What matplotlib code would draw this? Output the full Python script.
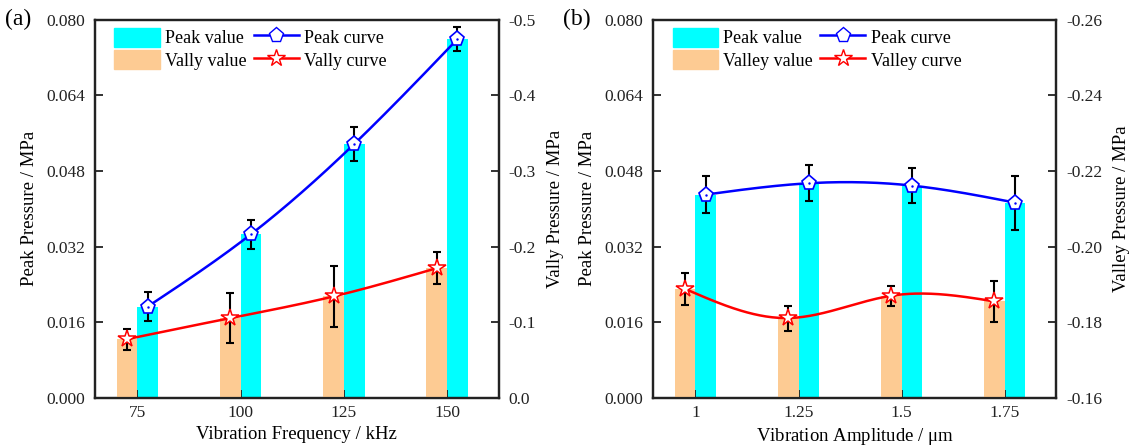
import numpy as np
import matplotlib
matplotlib.use("Agg")
import matplotlib.pyplot as plt
from matplotlib.patches import Patch
from matplotlib.lines import Line2D

plt.rcParams['font.family'] = ['Liberation Serif', 'DejaVu Serif']
plt.rcParams['axes.unicode_minus'] = False
plt.rcParams['mathtext.fontset'] = 'stix'

# panel (a): vibration frequency
freq_labels = ['75', '100', '125', '150']
peak_a = [0.0193, 0.0346, 0.0537, 0.0759]
peak_a_err = [0.0031, 0.0031, 0.0036, 0.0025]
valley_a = [-0.0776, -0.1054, -0.1341, -0.1715]
valley_a_err = [0.0137, 0.0326, 0.0400, 0.0215]

# panel (b): vibration amplitude
amp_labels = ['1', '1.25', '1.5', '1.75']
peak_b = [0.0430, 0.0454, 0.0449, 0.0413]
peak_b_err = [0.0040, 0.0038, 0.0037, 0.0057]
valley_b = [-0.1888, -0.1811, -0.1870, -0.1855]
valley_b_err = [0.0042, 0.0033, 0.0027, 0.0055]

CYAN = '#00FFFF'
PEACH = '#FDCB93'
BLUE = '#0000FF'
RED = '#FF0000'


def natural_spline(x, y, n=200):
    # smooth curve through the points, like Origin's spline connect
    x = np.asarray(x, float)
    y = np.asarray(y, float)
    k = len(x)
    h = np.diff(x)
    A = np.zeros((k, k))
    b = np.zeros(k)
    A[0, 0] = A[-1, -1] = 1
    for i in range(1, k - 1):
        A[i, i - 1] = h[i - 1]
        A[i, i] = 2 * (h[i - 1] + h[i])
        A[i, i + 1] = h[i]
        b[i] = 3 * ((y[i + 1] - y[i]) / h[i] - (y[i] - y[i - 1]) / h[i - 1])
    c = np.linalg.solve(A, b)
    xs = np.linspace(x[0], x[-1], n)
    ys = np.empty_like(xs)
    for j, xv in enumerate(xs):
        i = min(np.searchsorted(x, xv, side='right') - 1, k - 2)
        dx = xv - x[i]
        bi = (y[i + 1] - y[i]) / h[i] - h[i] * (2 * c[i] + c[i + 1]) / 3
        di = (c[i + 1] - c[i]) / (3 * h[i])
        ys[j] = y[i] + bi * dx + c[i] * dx ** 2 + di * dx ** 3
    return xs, ys


def panel(rect, labels, peak, peak_err, valley, valley_err, rlim, rticks, rfmt,
          xlabel, rlabel, vname, tag):
    ax = fig.add_axes(rect)
    ax2 = ax.twinx()
    pos = np.arange(len(labels))
    w = 0.2
    ax.bar(pos + w / 2, peak, w, color=CYAN, zorder=1)
    ax2.bar(pos - w / 2, [v - rlim[0] for v in valley], w, bottom=rlim[0],
            color=PEACH, zorder=1)

    xs, ys = natural_spline(pos + w / 2, peak)
    ax.plot(xs, ys, color=BLUE, lw=1.8, zorder=3)
    ax.errorbar(pos + w / 2, peak, yerr=peak_err, fmt='none', ecolor='black',
                elinewidth=1.5, capsize=3, capthick=1.5, zorder=4)
    ax.plot(pos + w / 2, peak, 'p', ms=11, mfc='white', mec=BLUE, mew=1.2, zorder=5)
    ax.plot(pos + w / 2, peak, '.', ms=1.5, color=BLUE, zorder=6)

    xs, ys = natural_spline(pos - w / 2, valley)
    ax2.plot(xs, ys, color=RED, lw=1.8, zorder=3)
    ax2.errorbar(pos - w / 2, valley, yerr=valley_err, fmt='none', ecolor='black',
                 elinewidth=1.5, capsize=3, capthick=1.5, zorder=4)
    ax2.plot(pos - w / 2, valley, '*', ms=13, mfc='white', mec=RED, mew=1.1, zorder=5)

    ax.set_xlim(-0.41, 3.5)
    ax.set_xticks(pos)
    ax.set_xticklabels(labels)
    ax.set_ylim(0, 0.08)
    ax.set_yticks(np.arange(0, 0.0801, 0.016))
    ax.set_yticklabels(['%.3f' % v for v in np.arange(0, 0.0801, 0.016)])
    ax2.set_ylim(*rlim)
    ax2.set_yticks(rticks)
    ax2.set_yticklabels([rfmt % v for v in rticks])

    for a in (ax, ax2):
        a.tick_params(direction='in', length=6, width=1.3, labelsize=12.5, colors='#222222')
        for s in a.spines.values():
            s.set_linewidth(1.6)
            s.set_color('#222222')
    ax.tick_params(axis='x', pad=5)
    ax.tick_params(axis='y', pad=7)
    ax2.tick_params(axis='y', pad=7)
    ax.set_xlabel(xlabel, fontsize=13.5, labelpad=4)
    ax.set_ylabel('Peak Pressure / MPa', fontsize=13.5, labelpad=6)
    ax2.set_ylabel(rlabel, fontsize=13.5, labelpad=8)

    handles = [Patch(color=CYAN), Patch(color=PEACH),
               Line2D([], [], color=BLUE, lw=1.8, marker='p', ms=11, mfc='white', mec=BLUE),
               Line2D([], [], color=RED, lw=1.8, marker='*', ms=13, mfc='white', mec=RED)]
    names = ['Peak value', vname + ' value', 'Peak curve', vname + ' curve']
    ax2.legend(handles, names, ncol=2, loc='upper left', bbox_to_anchor=(0.048, 0.979),
               frameon=False, fontsize=13, borderaxespad=0, borderpad=0,
               handlelength=2.5, handleheight=1.25, handletextpad=0.3,
               labelspacing=0.15, columnspacing=0.4)
    fig.text(rect[0] - 0.080, 0.957, tag, fontsize=17, va='center', ha='left')
    return ax


fig = plt.figure(figsize=(11.31, 4.48), dpi=100)
panel([0.084, 0.112, 0.357, 0.844], freq_labels, peak_a, peak_a_err, valley_a, valley_a_err,
      (0.0, -0.5), [0.0, -0.1, -0.2, -0.3, -0.4, -0.5], '%.1f',
      'Vibration Frequency / kHz', 'Vally Pressure / MPa', 'Vally', '(a)')
panel([0.5775, 0.112, 0.3565, 0.844], amp_labels, peak_b, peak_b_err, valley_b, valley_b_err,
      (-0.16, -0.26), [-0.16, -0.18, -0.20, -0.22, -0.24, -0.26], '%.2f',
      'Vibration Amplitude / $\\mathregular{\\mu}$m', 'Valley Pressure / MPa', 'Valley', '(b)')

fig.savefig('out.png', dpi=100)
